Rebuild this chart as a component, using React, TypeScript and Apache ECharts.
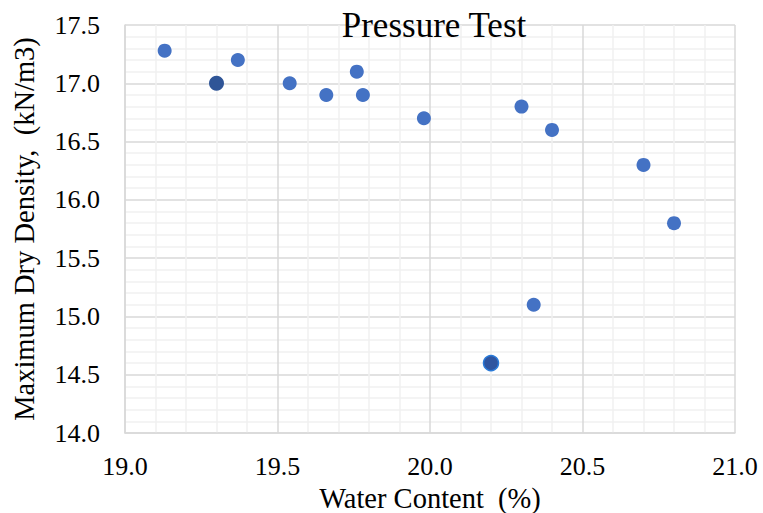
import React, { useEffect, useRef } from "react";
import * as echarts from "echarts";

const waterContent = [19.13, 19.37, 19.54, 19.66, 19.76, 19.78, 19.98, 20.30, 20.40, 20.70, 20.80, 20.34];
const dryDensity = [17.28, 17.2, 17.0, 16.9, 17.1, 16.9, 16.7, 16.8, 16.6, 16.3, 15.8, 15.1];
const darkPointA = [19.30, 17.0];
const darkPointB = [20.20, 14.6];

const FONT = "Times New Roman";

export default function App() {
  const ref = useRef<HTMLDivElement>(null);
  useEffect(() => {
    if (!ref.current) return;
    const chart = echarts.init(ref.current, undefined, { renderer: "svg" });
    const pts = waterContent.map((x, i) => [x, dryDensity[i]]);
    chart.setOption({
      animation: false,
      backgroundColor: "#ffffff",
      textStyle: { fontFamily: FONT },
      title: {
        text: "Pressure Test",
        left: 429,
        top: 3,
        textAlign: "center",
        textStyle: { fontFamily: FONT, fontSize: 35, fontWeight: "normal", color: "#000" },
      },
      grid: { left: 125, right: 28, top: 25, bottom: 80, containLabel: false, outerBoundsMode: "none" },
      xAxis: {
        type: "value",
        min: 19,
        max: 21,
        interval: 0.5,
        name: "Water Content  (%)",
        nameLocation: "middle",
        nameGap: 49,
        nameTextStyle: { fontFamily: FONT, fontSize: 28.5, color: "#000" },
        axisLine: { show: true, lineStyle: { color: "#d9d9d9", width: 1.5 } },
        axisTick: { show: false },
        axisLabel: {
          fontFamily: FONT,
          fontSize: 26,
          color: "#000",
          margin: 20,
          formatter: (v: number) => v.toFixed(1),
        },
        splitLine: { show: true, lineStyle: { color: "#d9d9d9", width: 1.5 } },
        minorTick: { show: false, splitNumber: 5 },
        minorSplitLine: { show: true, lineStyle: { color: "#f0f0f0", width: 1.5 } },
      },
      yAxis: {
        type: "value",
        min: 14,
        max: 17.5,
        interval: 0.5,
        name: "Maximum Dry Density,  (kN/m3)",
        nameLocation: "middle",
        nameGap: 86,
        nameTextStyle: { fontFamily: FONT, fontSize: 28.5, color: "#000" },
        axisLine: { show: true, lineStyle: { color: "#d9d9d9", width: 1.5 } },
        axisTick: { show: false },
        axisLabel: {
          fontFamily: FONT,
          fontSize: 26,
          color: "#000",
          margin: 25,
          formatter: (v: number) => v.toFixed(1),
        },
        splitLine: { show: true, lineStyle: { color: "#d9d9d9", width: 1.5 } },
        minorTick: { show: false, splitNumber: 5 },
        minorSplitLine: { show: true, lineStyle: { color: "#f0f0f0", width: 1.5 } },
      },
      series: [
        {
          type: "scatter",
          data: pts,
          symbolSize: 14,
          itemStyle: { color: "#4472c4", opacity: 1 },
        },
        {
          type: "scatter",
          data: [darkPointA],
          symbolSize: 15,
          itemStyle: { color: "#2f5597", opacity: 1 },
        },
        {
          type: "scatter",
          data: [darkPointB],
          symbolSize: 15,
          itemStyle: { color: "#2f55a0", borderColor: "#2a7ad8", borderWidth: 1.5, opacity: 1 },
        },
      ],
    });
    return () => chart.dispose();
  }, []);
  return (
    <div
      ref={ref}
      style={{ position: "fixed", left: 0, top: 0, width: 763, height: 513, background: "#fff" }}
    />
  );
}
